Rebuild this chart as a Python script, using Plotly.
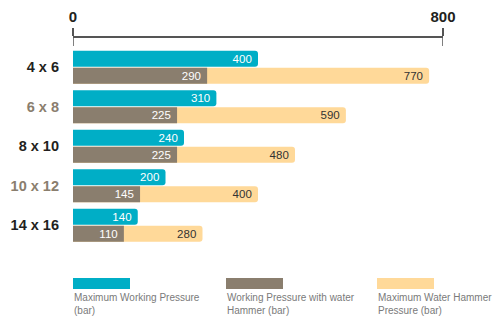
import plotly.graph_objects as go

# Pipe sizes and pressure ratings (bar)
sizes = ["4 x 6", "6 x 8", "8 x 10", "10 x 12", "14 x 16"]
max_working = [400, 310, 240, 200, 140]
working_with_hammer = [290, 225, 225, 145, 110]
max_hammer = [770, 590, 480, 400, 280]
axis_ticks = [0, 800]
series_names = [
    "Maximum Working Pressure<br>(bar)",
    "Working Pressure with water<br>Hammer (bar)",
    "Maximum Water Hammer<br>Pressure (bar)",
]

# Styling
TEAL = "#00aec6"
TAUPE = "#8a7e6e"
PEACH = "#ffd999"
DARK = "#231f20"
series_colors = [TEAL, TAUPE, PEACH]
label_colors = [DARK, TAUPE, DARK, TAUPE, DARK]
FONT = "Liberation Sans, Arial, sans-serif"

W, H = 493, 320
ML, MR, MT, MB = 73, 50, 38, 75
plot_w = W - ML - MR
plot_h = H - MT - MB
row_px = 39.5          # distance between size groups
bar_px = 16            # thickness of one bar
gap_px = 1             # gap between the two bars of a group
first_row_px = 29.2    # from axis line down to the centre of the first group

bar_w = bar_px / row_px
half_gap = gap_px / row_px / 2
y_top = -first_row_px / row_px
y_bottom = y_top + plot_h / row_px

common = dict(
    orientation="h",
    y=sizes,
    width=bar_w,
    textposition="inside",
    insidetextanchor="end",
    constraintext="none",
    textangle=0,
    texttemplate="%{x}\u00a0",
    hoverinfo="skip",
    showlegend=False,
)

fig = go.Figure()
fig.add_trace(go.Bar(
    x=max_hammer, offset=half_gap,
    marker=dict(color=PEACH, cornerradius=3, line=dict(width=0)),
    textfont=dict(family=FONT, size=11.5, color="#333333"),
    **common,
))
fig.add_trace(go.Bar(
    x=working_with_hammer, offset=half_gap,
    marker=dict(color=TAUPE, cornerradius=3, line=dict(width=0)),
    textfont=dict(family=FONT, size=11.5, color="white"),
    **common,
))
fig.add_trace(go.Bar(
    x=max_working, offset=-(bar_w + half_gap),
    marker=dict(color=TEAL, cornerradius=3, line=dict(width=0)),
    textfont=dict(family=FONT, size=11.5, color="white"),
    **common,
))

# Tick marks below the top axis line
shapes = []
for v in axis_ticks:
    shapes.append(dict(
        type="line", xref="x", yref="paper",
        x0=v, x1=v, y0=1, y1=1 - 8 / plot_h,
        line=dict(color="#555555", width=1.5),
    ))

# Legend: wide colour swatches with two-line captions
legend_x_px = [73, 226, 377]
swatch_w_px = 57
annotations = []
for name, color, xp in zip(series_names, series_colors, legend_x_px):
    x0 = (xp - ML) / plot_w
    shapes.append(dict(
        type="rect", xref="paper", yref="paper",
        x0=x0, x1=x0 + swatch_w_px / plot_w,
        y0=(H - MB - 289) / plot_h, y1=(H - MB - 278) / plot_h,
        fillcolor=color, line=dict(width=0),
    ))
    annotations.append(dict(
        xref="paper", yref="paper",
        x=x0, y=(H - MB - 291) / plot_h,
        xanchor="left", yanchor="top", align="left",
        text=name, showarrow=False,
        font=dict(family=FONT, size=10, color="#7a7a7a"),
        borderpad=0,
    ))

ticktext = [f'<span style="color:{c}">{s}</span>' for s, c in zip(sizes, label_colors)]

fig.update_layout(
    width=W, height=H,
    margin=dict(l=ML, r=MR, t=MT, b=MB),
    paper_bgcolor="white", plot_bgcolor="white",
    barmode="overlay",
    shapes=shapes,
    annotations=annotations,
    xaxis=dict(
        side="top", range=[0, 800], automargin=False,
        tickvals=axis_ticks, ticktext=[str(v) for v in axis_ticks],
        showline=True, linecolor="#555555", linewidth=1.5,
        ticks="outside", ticklen=8, tickwidth=1.5, tickcolor="#555555",
        showgrid=False, zeroline=False,
        tickfont=dict(family=FONT, size=15, color=DARK, weight="bold"),
    ),
    yaxis=dict(
        type="category", range=[y_bottom, y_top], automargin=False,
        tickvals=sizes, ticktext=ticktext,
        showline=False, showgrid=False, zeroline=False, ticks="",
        ticklabelstandoff=13,
        tickfont=dict(family=FONT, size=14.5, color=DARK, weight="bold"),
    ),
)

fig.write_html("out.html")
